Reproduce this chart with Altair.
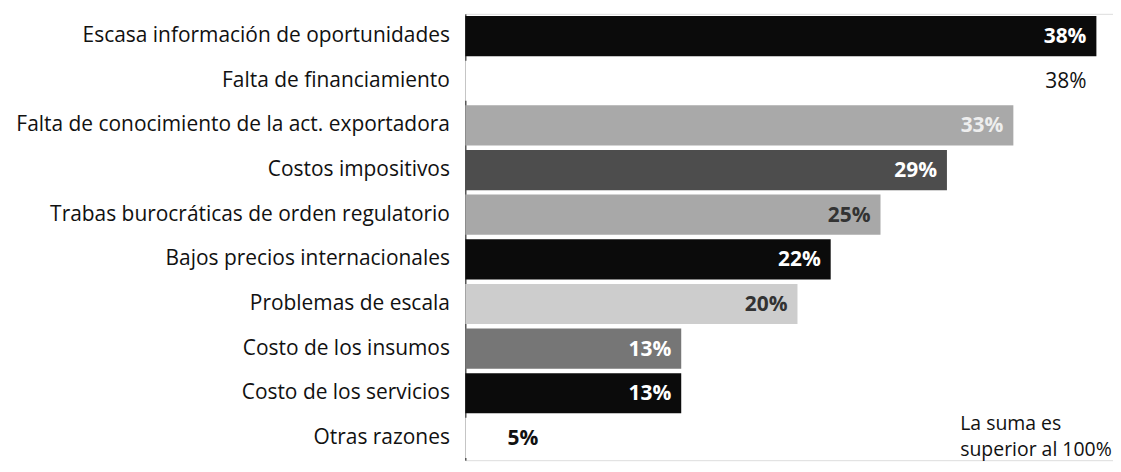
import altair as alt
import pandas as pd

categories = [
    "Escasa información de oportunidades",
    "Falta de financiamiento",
    "Falta de conocimiento de la act. exportadora",
    "Costos impositivos",
    "Trabas burocráticas de orden regulatorio",
    "Bajos precios internacionales",
    "Problemas de escala",
    "Costo de los insumos",
    "Costo de los servicios",
    "Otras razones",
]
values = [38, 38, 33, 29, 25, 22, 20, 13, 13, 5]
labels = ["38%", "38%", "33%", "29%", "25%", "22%", "20%", "13%", "13%", "5%"]
note_lines = ["La suma es", "superior al 100%"]

bar_colors = ["#0b0b0b", "#ffffff", "#a9a9a9", "#4d4d4d", "#a8a8a8",
              "#0b0b0b", "#cdcdcd", "#767676", "#0b0b0b", "#ffffff"]
text_colors = ["#ffffff", "#111111", "#eeeeee", "#ffffff", "#333333",
               "#ffffff", "#333333", "#ffffff", "#ffffff", "#111111"]

df = pd.DataFrame({"cat": categories, "val": values, "lab": labels})

FONT = "Open Sans"
x_scale = alt.Scale(domain=[0, 39], nice=False)
y_scale = alt.Scale(paddingInner=0.1, paddingOuter=0.05)
y_axis = alt.Axis(domain=True, domainColor="#111111", domainWidth=1,
                  ticks=False, grid=False, labelFontSize=21, labelFont=FONT,
                  labelColor="#111111", labelPadding=16, labelLimit=700, title=None)

bars = alt.Chart(df).mark_bar(strokeWidth=0).encode(
    y=alt.Y("cat:N", sort=categories, title=None, scale=y_scale, axis=y_axis),
    x=alt.X("val:Q", scale=x_scale, axis=None),
    color=alt.Color("cat:N", scale=alt.Scale(domain=categories, range=bar_colors), legend=None),
)

def value_text(weight, keep):
    return alt.Chart(df).transform_filter(keep).mark_text(
        align="right", baseline="middle", dx=-10, dy=1, fontSize=21,
        fontWeight=weight, font=FONT).encode(
        y=alt.Y("cat:N", sort=categories, title=None, scale=y_scale, axis=y_axis),
        x=alt.X("val:Q", scale=x_scale, axis=None),
        text="lab:N",
        color=alt.Color("cat:N", scale=alt.Scale(domain=categories, range=text_colors), legend=None),
    )

text_bold = value_text("bold", alt.datum.cat != categories[1])
text_reg = value_text("normal", alt.datum.cat == categories[1])

note = alt.Chart(pd.DataFrame({"t": [0]})).mark_text(
    align="left", baseline="alphabetic", fontSize=19.5, font=FONT, color="#111111", lineHeight=26
).encode(
    x=alt.X(datum=29.8, scale=x_scale, axis=None),
    y=alt.value(418),
    text=alt.value(note_lines),
)

chart = alt.layer(bars, text_bold, text_reg, note).resolve_scale(color="independent").properties(
    width=650, height=448,
    autosize=alt.AutoSizeParams(type="none"),
    padding={"left": 459, "top": 5, "right": 0, "bottom": 11},
).configure_view(stroke=None, strokeWidth=0, strokeOpacity=0).configure_axisX(
    domain=False, labels=False, ticks=False, grid=False
).configure_axis(grid=False).configure(background="#ffffff")

chart.save("out.html", embed_options={"renderer": "svg", "actions": False})
